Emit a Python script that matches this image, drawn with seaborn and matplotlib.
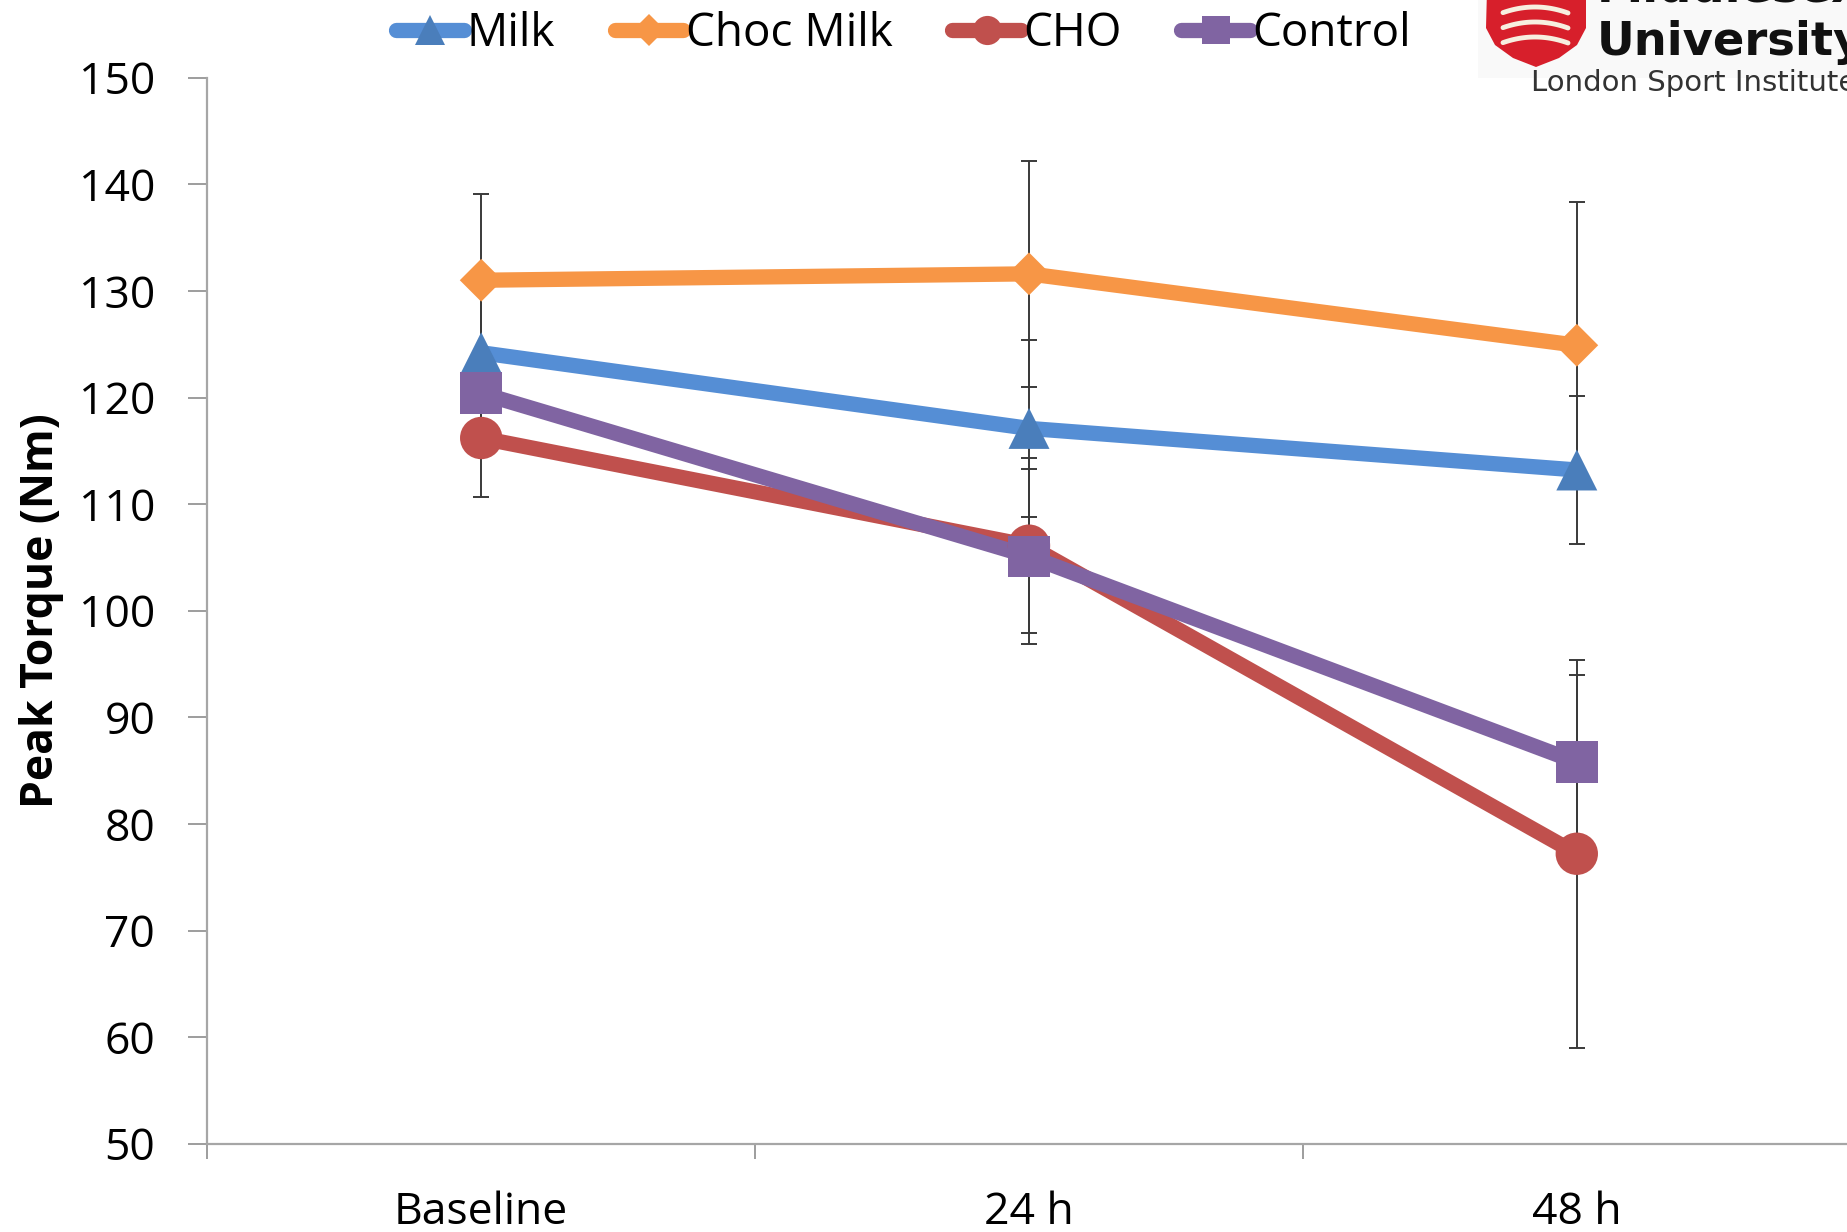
import numpy as np
import pandas as pd
import matplotlib
matplotlib.use("Agg")
import matplotlib.pyplot as plt
from matplotlib.lines import Line2D
from matplotlib.patches import Rectangle, Polygon
from matplotlib.ticker import FixedLocator
import seaborn as sns

# ---- data -------------------------------------------------------------
timepoints = ["Baseline", "24 h", "48 h"]
groups = ["Milk", "Choc Milk", "CHO", "Control"]

milk_mean = [124.2, 117.1, 113.2]
milk_sd = [7.0, 8.3, 6.9]
choc_mean = [131.0, 131.6, 124.9]
choc_sd = [8.1, 10.6, 13.4]
cho_mean = [116.2, 106.1, 77.2]
cho_sd = [5.5, 8.2, 18.2]
control_mean = [120.4, 105.1, 85.8]
control_sd = [4.0, 8.2, 8.2]

y_ticks = [50, 60, 70, 80, 90, 100, 110, 120, 130, 140, 150]

means = {"Milk": milk_mean, "Choc Milk": choc_mean, "CHO": cho_mean, "Control": control_mean}
sds = {"Milk": milk_sd, "Choc Milk": choc_sd, "CHO": cho_sd, "Control": control_sd}

# ---- styling ----------------------------------------------------------
line_colors = {"Milk": "#558ED5", "Choc Milk": "#F79646", "CHO": "#C0504D", "Control": "#8064A2"}
marker_colors = {"Milk": "#4A7EBB", "Choc Milk": "#F79646", "CHO": "#C0504D", "Control": "#8064A2"}
marker_shapes = {"Milk": "^", "Choc Milk": "D", "CHO": "o", "Control": "s"}
marker_areas = {"Milk": 29.5 ** 2, "Choc Milk": 21.8 ** 2, "CHO": 30.5 ** 2, "Control": 30.0 ** 2}
LW = 11

sns.set_style("white")
plt.rcParams["font.family"] = ["Open Sans", "DejaVu Sans"]
plt.rcParams["text.color"] = "black"

rows = []
for g in groups:
    for t, m in zip(timepoints, means[g]):
        rows.append({"time": t, "torque": m, "group": g})
df = pd.DataFrame(rows)

W, H = 1847, 1232
fig = plt.figure(figsize=(W / 100, H / 100), dpi=100)
ax_left, ax_right = 207.3, 1850.7
ax_top, ax_bottom = 77.7, 1143.7
ax = fig.add_axes([ax_left / W, (H - ax_bottom) / H,
                   (ax_right - ax_left) / W, (ax_bottom - ax_top) / H])

# lines
sns.lineplot(data=df, x="time", y="torque", hue="group", hue_order=groups,
             palette=line_colors, linewidth=LW, sort=False, legend=False,
             ax=ax, zorder=3, solid_capstyle="round", solid_joinstyle="round")

# error bars (behind lines and markers)
for g in groups:
    ax.errorbar(timepoints, means[g], yerr=sds[g], fmt="none", ecolor="#3A3A3A",
                elinewidth=1.4, capsize=6, capthick=1.4, zorder=2)

# markers
sns.scatterplot(data=df, x="time", y="torque", hue="group", hue_order=groups,
                palette=marker_colors, style="group", markers=marker_shapes,
                size="group", sizes=marker_areas, linewidth=0, legend=False,
                ax=ax, zorder=4)

# ---- axes -------------------------------------------------------------
ax.set_xlim(-0.5, 2.5)
ax.set_ylim(50, 150)
ax.set_yticks(y_ticks)
ax.set_xlabel("")
ax.set_ylabel("Peak Torque (Nm)", fontsize=32, fontweight="bold", va="center",
              color="black")
ax.yaxis.set_label_coords((42 - ax_left) / (ax_right - ax_left), 0.5)

for side in ["top", "right"]:
    ax.spines[side].set_visible(False)
for side in ["left", "bottom"]:
    ax.spines[side].set_color("#A6A6A6")
    ax.spines[side].set_linewidth(1.6)

ax.tick_params(axis="y", which="major", direction="out", length=13.5, width=1.2,
               color="#8C8C8C", labelsize=32, pad=24, left=True, labelcolor="black")
ax.tick_params(axis="x", which="major", length=0, labelsize=32, pad=34,
               bottom=True, labelcolor="black")
ax.xaxis.set_minor_locator(FixedLocator([-0.5, 0.5, 1.5, 2.5]))
ax.tick_params(axis="x", which="minor", direction="out", length=11, width=1.2,
               color="#8C8C8C", bottom=True)
ax.grid(False)

# ---- legend -----------------------------------------------------------
legend_ms = {"Milk": 22, "Choc Milk": 16, "CHO": 21, "Control": 20}
handles = [Line2D([], [], color=line_colors[g], lw=LW, marker=marker_shapes[g],
                  markersize=legend_ms[g], markerfacecolor=marker_colors[g],
                  markeredgewidth=0, solid_capstyle="round")
           for g in groups]
fig.legend(handles, groups, loc="center", bbox_to_anchor=(0.489, 0.972), ncol=4,
           frameon=False, fontsize=33, handlelength=1.5, handletextpad=0.05,
           columnspacing=1.3, borderpad=0, borderaxespad=0)

# ---- institution logo (top-right corner) -------------------------------
def px(x, y):
    return (x / W, (H - y) / H)

fig.add_artist(Rectangle(px(1478, 107), (W - 1478) / W, 107 / H,
                         transform=fig.transFigure, facecolor="#F9F9F9",
                         edgecolor="none", zorder=0))
shield = [px(1487, -10), px(1586, -10), px(1586, 28), px(1577, 45), px(1559, 58),
          px(1536, 67), px(1513, 58), px(1495, 45), px(1486, 28)]
fig.add_artist(Polygon(shield, closed=True, transform=fig.transFigure,
                       facecolor="#D71F2B", edgecolor="none", zorder=1))
for yb in [7, 22, 37]:
    xs = np.linspace(1503, 1568, 30)
    ys = yb + 6 * ((xs - 1535) / 33) ** 2
    fx, fy = zip(*[px(a, b) for a, b in zip(xs, ys)])
    fig.add_artist(Line2D(fx, fy, transform=fig.transFigure, color="#F7EFE0",
                          lw=3.5, solid_capstyle="round", zorder=2))
fig.text(*px(1597, 2), "Middlesex", fontsize=33.5, fontweight="bold",
         family="DejaVu Sans", va="baseline", ha="left", color="#111111")
fig.text(*px(1597, 55), "University", fontsize=33.5, fontweight="bold",
         family="DejaVu Sans", va="baseline", ha="left", color="#111111")
fig.text(*px(1531, 91), "London Sport Institute", fontsize=21,
         family="DejaVu Sans", va="baseline", ha="left", color="#333333")

fig.savefig("out.png", dpi=100)
